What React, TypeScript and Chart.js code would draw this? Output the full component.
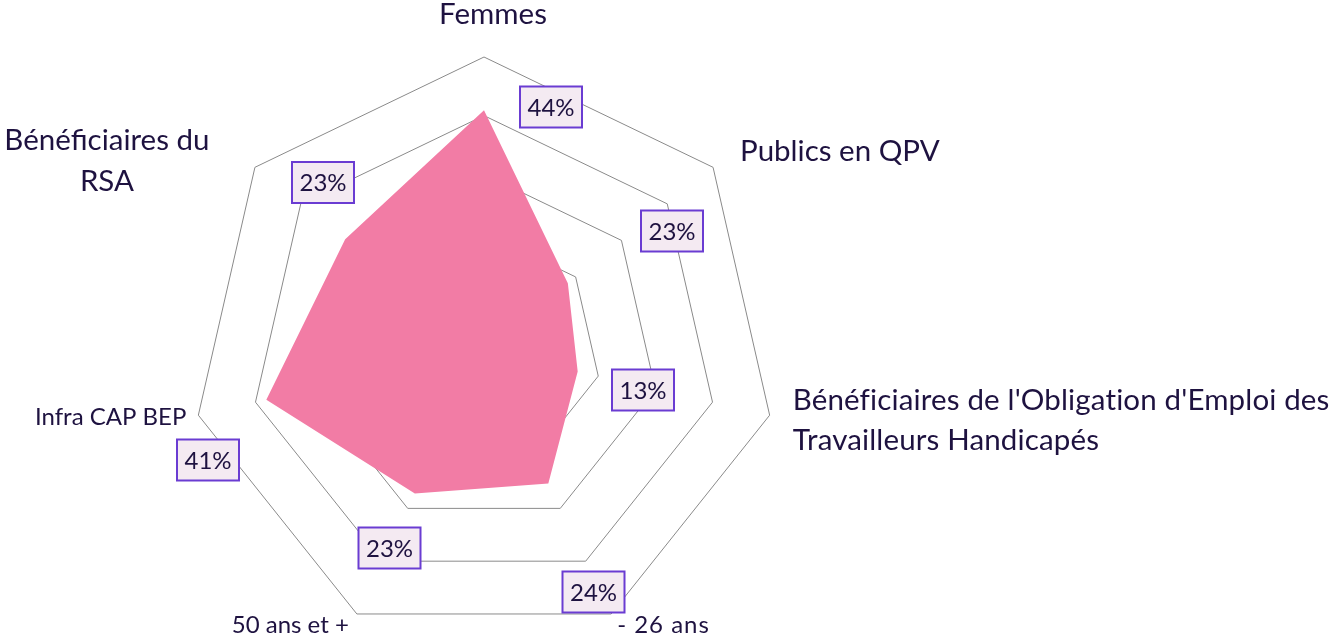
import { useEffect, useRef } from "react";
import { Chart, registerables } from "chart.js";

Chart.register(...registerables);

// ---- Data ----
const categories = [
  "Femmes",
  "Publics en QPV",
  "Bénéficiaires de l'Obligation d'Emploi des Travailleurs Handicapés",
  "- 26 ans",
  "50 ans et +",
  "Infra CAP BEP",
  "Bénéficiaires du RSA",
];
const categoryLines = [
  ["Femmes"],
  ["Publics en QPV"],
  ["Bénéficiaires de l'Obligation d'Emploi des", "Travailleurs Handicapés"],
  ["- 26 ans"],
  ["50 ans et +"],
  ["Infra CAP BEP"],
  ["Bénéficiaires du", "RSA"],
];
const seriesValues = [0.409, 0.183, 0.164, 0.253, 0.272, 0.381, 0.303];
const valueLabels = ["44%", "23%", "13%", "24%", "23%", "41%", "23%"];
const scaleMin = 0;
const scaleMax = 0.5;
const scaleStep = 0.1;

// ---- Styles / placement ----
const TEXT = "#1E1240";
const FONT = "Lato, 'Open Sans', sans-serif";
// offsets relative to outer vertex of each axis
const pointLabelStyle = [
  { dx: 9, dy: -33, align: "center", size: 29.5, lh: 40, ls: "0px" },
  { dx: 27, dy: -6, align: "left", size: 29.5, lh: 40, ls: "0px" },
  { dx: 23, dy: -5, align: "left", size: 29.5, lh: 40, ls: "0.15px" },
  { dx: 6, dy: 19, align: "left", size: 24, lh: 30, ls: "1px" },
  { dx: -8, dy: 19, align: "right", size: 24, lh: 30, ls: "0px" },
  { dx: -12, dy: 10, align: "right", size: 24, lh: 30, ls: "0px" },
  { dx: -148, dy: -17, align: "center", size: 29.5, lh: 41, ls: "0px" },
];
// value box centers relative to chart center
const boxOffsets = [
  [67, -243],
  [188, -119],
  [159, 40],
  [109.5, 242],
  [-94.5, 198],
  [-276, 110],
  [-161, -167.5],
];

const labelPlugin = {
  id: "customLabels",
  afterDatasetsDraw(chart: any) {
    const ctx = chart.ctx as any;
    const r = chart.scales.r;
    const R = r.drawingArea;
    ctx.save();
    categoryLines.forEach((lines, i) => {
      const p = r.getPointPosition(i, R);
      const st = pointLabelStyle[i];
      ctx.font = `${st.size}px ${FONT}`;
      ctx.fillStyle = TEXT;
      ctx.textAlign = st.align;
      ctx.textBaseline = "alphabetic";
      ctx.letterSpacing = st.ls;
      lines.forEach((ln, j) => ctx.fillText(ln, p.x + st.dx, p.y + st.dy + j * st.lh));
    });
    ctx.letterSpacing = "0px";
    const bw = 62;
    const bh = 41;
    valueLabels.forEach((t, i) => {
      const [dx, dy] = boxOffsets[i];
      const cx = r.xCenter + dx;
      const cy = r.yCenter + dy;
      ctx.fillStyle = "#F4EAF2";
      ctx.fillRect(cx - bw / 2, cy - bh / 2, bw, bh);
      ctx.strokeStyle = "#6A3CD2";
      ctx.lineWidth = 2;
      ctx.strokeRect(cx - bw / 2, cy - bh / 2, bw, bh);
      ctx.fillStyle = TEXT;
      ctx.font = `24px ${FONT}`;
      ctx.textAlign = "center";
      ctx.textBaseline = "middle";
      ctx.fillText(t, cx, cy + 1);
    });
    ctx.restore();
  },
};

export default function App() {
  const ref = useRef<HTMLCanvasElement>(null);
  useEffect(() => {
    if (!ref.current) return;
    const chart = new Chart(ref.current, {
      type: "radar",
      data: {
        labels: categories,
        datasets: [
          {
            data: seriesValues,
            backgroundColor: "#F27CA5",
            borderWidth: 0,
            pointRadius: 0,
            fill: true,
          },
        ],
      },
      options: {
        animation: false,
        responsive: false,
        layout: { padding: { top: 57, bottom: -3, left: 189, right: 554 } },
        plugins: { legend: { display: false }, tooltip: { enabled: false } },
        scales: {
          r: {
            min: scaleMin,
            max: scaleMax,
            ticks: { display: false, stepSize: scaleStep },
            grid: { color: "#8A8A8A", lineWidth: 1 },
            angleLines: { display: false },
            pointLabels: { display: false },
          },
        },
      },
      plugins: [labelPlugin],
    });
    return () => chart.destroy();
  }, []);
  return (
    <div style={{ position: "fixed", left: 0, top: 0, width: 1333, height: 644, background: "#fff" }}>
      <canvas ref={ref} width={1333} height={644} />
    </div>
  );
}
